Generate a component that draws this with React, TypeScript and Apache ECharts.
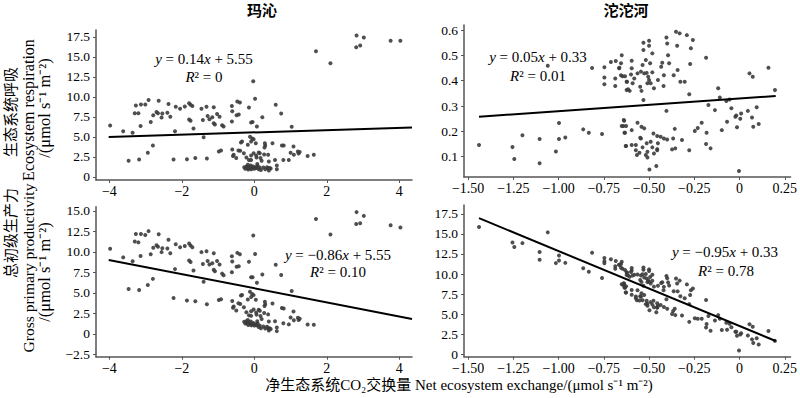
import React, { useEffect, useRef } from "react";
import * as echarts from "echarts";

// 玛沁: NEE (x) vs ecosystem respiration (y)
const maqinReco: number[][] = [
  [-3.98,6.4],[-3.62,5.7],[-3.36,5.5],[-3.47,2.0],[-3.18,2.15],[-3.27,8.9],[-3.2,7.95],[-3.3,7.95],[-3.13,9.05],[-3.14,6.35],
  [-3.01,9.05],[-2.92,9.6],[-2.86,6.85],[-2.79,7.7],[-2.8,3.9],[-2.94,3.0],[-2.64,9.5],[-2.7,8.1],[-2.66,7.95],[-2.54,7.9],
  [-2.56,7.4],[-2.37,9.1],[-2.4,8.0],[-2.32,7.5],[-2.23,2.15],[-2.19,5.7],[-2.17,8.75],[-2.05,8.5],[-1.92,8.8],[-1.86,2.2],
  [-1.8,9.2],[-1.76,9.0],[-1.71,8.85],[-1.76,7.0],[-1.8,7.15],[-1.68,6.05],[-1.63,2.35],[-1.46,8.5],[-1.42,7.1],[-1.4,4.95],
  [-1.32,8.75],[-1.29,7.6],[-1.31,2.3],[-1.24,7.2],[-1.16,7.45],[-1.12,8.7],[-1.09,6.55],[-1.12,6.7],[-1.03,7.85],[-0.96,7.5],
  [-0.98,3.15],[-0.89,6.45],[-0.85,6.3],
  [-0.62,8.85],[-0.61,8.2],[-0.62,6.9],[-0.59,2.6],[-0.47,9.4],[-0.49,7.7],[-0.37,4.3],[-0.44,3.3],[-0.15,8.65],[-0.12,5.0],
  [-0.18,4.0],[-0.09,6.8],[-0.03,11.95],[0.02,9.75],[0.07,6.3],[0.22,7.45],[0.59,9.0],[0.74,7.9],[0.76,3.9],[1.03,6.25],
  [1.08,3.8],[-0.05,6.85],[-0.02,4.7],[0.04,4.2],[0.29,4.2],[0.28,3.67],[0.3,3.9],[0.5,4.2],[0.81,3.9],[1.0,3.0],
  [1.09,2.75],[1.2,3.17],[1.22,2.9],[1.25,3.1],[1.47,2.6],[1.64,2.75],[0.15,2.95],[0.27,2.8],[0.38,2.75],[0.57,2.1],
  [0.8,2.1],[0.95,2.1],[-0.09,2.1],[0.06,2.4],[0.2,2.0],[0.4,1.9],[0.62,1.4],[0.62,0.95],[0.45,1.05],[0.38,1.05],
  [0.18,0.85],[-0.57,2.75],[-0.5,2.35],[-0.39,3.25],[-0.29,2.95],[-0.22,2.4],[-0.15,2.1],[-0.09,2.65],[-0.02,2.95],[0.05,2.65],
  [0.12,3.05],[0.17,2.35],[-0.34,4.4],[-0.09,4.4],[-0.06,4.8],[-0.43,7.8],[-0.4,9.3],[-0.61,3.4],[-0.92,3.3],
  [-0.28,1.2],[-0.25,1.0],[-0.22,1.3],[-0.2,1.1],[-0.17,0.9],[-0.15,1.25],[-0.12,1.05],[-0.1,1.4],[-0.08,0.95],[-0.05,1.15],
  [-0.03,1.3],[0.0,1.0],[0.03,1.2],[0.06,1.1],[0.09,1.35],[0.12,0.95],[0.15,1.15],[0.25,1.15],[0.3,0.95],[0.35,1.2],
  [0.4,0.8],[0.42,1.1],[-0.18,1.5],[0.08,1.6],
  [1.7,15.7],[2.1,14.2],[2.82,17.66],[3.02,17.4],[2.81,16.2],[2.92,16.4],[3.76,17.0],[4.03,17.0],
];

// 玛沁: NEE (x) vs gross primary productivity (y)
const maqinGPP: number[][] = [
  [-3.98,10.38],[-3.62,9.32],[-3.36,8.86],[-3.47,5.47],[-3.18,5.33],[-3.27,12.17],[-3.2,11.15],[-3.3,11.25],[-3.13,12.18],[-3.14,9.49],
  [-3.01,12.06],[-2.92,12.52],[-2.86,9.71],[-2.79,10.49],[-2.8,6.7],[-2.94,5.94],[-2.64,12.14],[-2.7,10.8],[-2.66,10.61],[-2.54,10.44],
  [-2.56,9.96],[-2.37,11.47],[-2.4,10.4],[-2.32,9.82],[-2.23,4.38],[-2.19,7.89],[-2.17,10.92],[-2.05,10.55],[-1.92,10.72],[-1.86,4.06],
  [-1.8,11.0],[-1.76,10.76],[-1.71,10.56],[-1.76,8.76],[-1.8,8.95],[-1.68,7.73],[-1.63,3.98],[-1.46,9.96],[-1.42,8.52],[-1.4,6.35],
  [-1.32,10.07],[-1.29,8.89],[-1.31,3.61],[-1.24,8.44],[-1.16,8.61],[-1.12,9.82],[-1.09,7.64],[-1.12,7.82],[-1.03,8.88],[-0.96,8.46],
  [-0.98,4.13],[-0.89,7.34],[-0.85,7.15],
  [-0.62,9.47],[-0.61,8.81],[-0.62,7.52],[-0.59,3.19],[-0.47,9.87],[-0.49,8.19],[-0.37,4.67],[-0.44,3.74],[-0.15,8.8],[-0.12,5.12],
  [-0.18,4.18],[-0.09,6.89],[-0.03,11.98],[0.02,9.73],[0.07,6.23],[0.22,7.23],[0.59,8.41],[0.74,7.16],[0.76,3.14],[1.03,5.22],
  [1.08,2.72],[-0.05,6.9],[-0.02,4.72],[0.04,4.16],[0.29,3.91],[0.28,3.39],[0.3,3.6],[0.5,3.7],[0.81,3.09],[1.0,2.0],
  [1.09,1.66],[1.2,1.97],[1.22,1.68],[1.25,1.85],[1.47,1.13],[1.64,1.11],[0.15,2.8],[0.27,2.53],[0.38,2.37],[0.57,1.53],
  [0.8,1.3],[0.95,1.15],[-0.09,2.19],[0.06,2.34],[0.2,1.8],[0.4,1.5],[0.62,0.78],[0.62,0.33],[0.45,0.6],[0.38,0.67],
  [0.18,0.67],[-0.57,3.32],[-0.5,2.85],[-0.39,3.64],[-0.29,3.24],[-0.22,2.62],[-0.15,2.25],[-0.09,2.74],[-0.02,2.97],[0.05,2.6],
  [0.12,2.93],[0.17,2.18],[-0.34,4.74],[-0.09,4.49],[-0.06,4.86],[-0.43,8.23],[-0.4,9.7],[-0.61,4.01],[-0.92,4.22],
  [-0.28,1.48],[-0.25,1.25],[-0.22,1.52],[-0.2,1.3],[-0.17,1.07],[-0.15,1.4],[-0.12,1.17],[-0.1,1.5],[-0.08,1.03],[-0.05,1.2],
  [-0.03,1.33],[0.0,1.0],[0.03,1.17],[0.06,1.04],[0.09,1.26],[0.12,0.83],[0.15,1.0],[0.25,0.9],[0.3,0.65],[0.35,0.85],
  [0.4,0.4],[0.42,0.68],[-0.18,1.68],[0.08,1.52],
  [1.7,14.0],[2.1,12.1],[2.82,14.84],[3.02,14.38],[2.81,13.39],[2.92,13.48],[3.76,13.24],[4.03,12.97],
];

// 沱沱河: NEE (x) vs ecosystem respiration (y)
const tuotuoReco: number[][] = [
  [-1.44,0.146],[-1.255,0.138],[-1.245,0.091],[-1.2,0.185],[-1.105,0.17],[-1.105,0.074],[-1.015,0.121],[-0.998,0.233],[-0.998,0.17],[-0.963,0.176],
  [-1.06,0.459],[-0.864,0.208],[-0.833,0.195],[-0.815,0.45],[-0.76,0.19],[-0.747,0.453],[-0.747,0.413],[-0.747,0.386],[-0.711,0.474],[-0.684,0.478],
  [-0.666,0.449],[-0.651,0.501],[-0.647,0.418],[-0.687,0.409],[-0.687,0.379],[-0.638,0.242],[-0.642,0.221],[-0.633,0.195],[-0.629,0.142],[-0.624,0.396],
  [-0.624,0.363],[-0.655,0.469],[-0.664,0.451],[-0.596,0.479],[-0.596,0.449],[-0.531,0.55],[-0.5,0.558],[-0.5,0.538],[-0.531,0.521],[-0.482,0.508],
  [-0.518,0.482],[-0.494,0.469],[-0.536,0.462],[-0.6,0.425],[-0.633,0.418],[-0.655,0.422],[-0.622,0.396],[-0.591,0.39],[-0.616,0.366],[-0.607,0.36],
  [-0.582,0.409],[-0.564,0.429],[-0.545,0.436],[-0.527,0.429],[-0.513,0.431],[-0.5,0.403],[-0.509,0.39],[-0.491,0.39],[-0.505,0.416],[-0.482,0.433],
  [-0.549,0.376],[-0.542,0.36],[-0.531,0.324],[-0.473,0.37],[-0.451,0.403],[-0.433,0.455],[-0.427,0.471],[-0.404,0.571],[-0.4,0.547],[-0.395,0.501],
  [-0.389,0.469],[-0.418,0.422],[-0.42,0.379],[-0.404,0.281],[-0.351,0.593],[-0.331,0.587],[-0.345,0.538],[-0.364,0.422],[-0.342,0.442],[-0.327,0.396],
  [-0.303,0.396],[-0.291,0.58],[-0.258,0.561],[-0.269,0.528],[-0.273,0.466],[-0.278,0.347],[-0.185,0.491],[-0.118,0.37],[-0.109,0.334],[-0.172,0.304],
  [-0.136,0.284],[-0.073,0.32],[-0.055,0.326],[-0.045,0.291],[-0.023,0.258],[-0.018,0.263],[0.009,0.271],[0.004,0.25],[0.046,0.281],[0.069,0.255],
  [0.095,0.295],[0.076,0.218],[0.106,0.229],[0.055,0.429],[0.073,0.416],[0.16,0.451],[0.196,0.363],[-0.014,0.216],[-0.098,0.205],[-0.069,0.238],
  [-0.003,0.044],[-0.182,0.195],[-0.16,0.133],[-0.185,0.15],[-0.209,0.234],[-0.231,0.213],[-0.247,0.202],[-0.278,0.126],[-0.318,0.166],[-0.358,0.21],
  [-0.367,0.172],[-0.355,0.133],[-0.373,0.129],[-0.4,0.168],[-0.418,0.172],[-0.436,0.179],[-0.455,0.182],[-0.451,0.153],[-0.455,0.126],[-0.476,0.192],
  [-0.491,0.159],[-0.482,0.137],[-0.473,0.113],[-0.513,0.153],[-0.509,0.12],[-0.518,0.107],[-0.509,0.097],[-0.498,0.05],[-0.46,0.063],[-0.545,0.172],
  [-0.549,0.175],[-0.542,0.218],[-0.527,0.212],[-0.564,0.234],[-0.596,0.205],[-0.651,0.221],[-0.627,0.221],[-0.64,0.245],[-0.636,0.195],[-0.627,0.142],
  [-0.596,0.146],[-0.573,0.146],[-0.573,0.126],[-0.536,0.137],[-0.567,0.107],[-0.553,0.116],[-0.455,0.13],
];

// 沱沱河: NEE (x) vs gross primary productivity (y)
const tuotuoGPP: number[][] = [
  [-1.44,15.86],[-1.255,13.93],[-1.245,13.36],[-1.2,13.85],[-1.105,12.75],[-1.105,11.79],[-1.015,11.36],[-0.998,12.31],[-0.998,11.68],[-0.963,11.39],
  [-1.06,15.19],[-0.864,10.72],[-0.833,10.28],[-0.815,12.65],[-0.76,9.5],[-0.747,12.0],[-0.747,11.6],[-0.747,11.33],[-0.711,11.85],[-0.684,11.62],
  [-0.666,11.15],[-0.651,11.52],[-0.647,10.65],[-0.687,10.96],[-0.687,10.66],[-0.638,8.8],[-0.642,8.63],[-0.633,8.28],[-0.629,7.71],[-0.624,10.2],
  [-0.624,9.87],[-0.655,11.24],[-0.664,11.15],[-0.596,10.75],[-0.596,10.45],[-0.531,10.81],[-0.5,10.58],[-0.5,10.38],[-0.531,10.52],[-0.482,9.9],
  [-0.518,10.0],[-0.494,9.63],[-0.536,9.98],[-0.6,10.25],[-0.633,10.51],[-0.655,10.77],[-0.622,10.18],[-0.591,9.81],[-0.616,9.82],[-0.607,9.67],
  [-0.582,9.91],[-0.564,9.93],[-0.545,9.81],[-0.527,9.56],[-0.513,9.44],[-0.5,9.03],[-0.509,8.99],[-0.491,8.81],[-0.505,9.21],[-0.482,9.15],
  [-0.549,9.25],[-0.542,9.02],[-0.531,8.55],[-0.473,8.43],[-0.451,8.54],[-0.433,8.88],[-0.427,8.98],[-0.404,9.75],[-0.4,9.47],[-0.395,8.96],
  [-0.389,8.58],[-0.418,8.4],[-0.42,7.99],[-0.404,6.85],[-0.351,9.44],[-0.331,9.18],[-0.345,8.83],[-0.364,7.86],[-0.342,7.84],[-0.327,7.23],
  [-0.303,6.99],[-0.291,8.71],[-0.258,8.19],[-0.269,7.97],[-0.273,7.39],[-0.278,6.25],[-0.185,6.76],[-0.118,4.88],[-0.109,4.43],[-0.172,4.76],
  [-0.136,4.2],[-0.073,3.93],[-0.055,3.81],[-0.045,3.36],[-0.023,2.81],[-0.018,2.81],[0.009,2.62],[0.004,2.46],[0.046,2.35],[0.069,1.86],
  [0.095,2.0],[0.076,1.42],[0.106,1.23],[0.055,3.74],[0.073,3.43],[0.16,2.91],[0.196,1.67],[-0.014,2.3],[-0.098,3.03],[-0.069,3.07],
  [-0.003,0.47],[-0.182,3.77],[-0.16,2.93],[-0.185,3.35],[-0.209,4.43],[-0.231,4.44],[-0.247,4.49],[-0.278,4.04],[-0.318,4.84],[-0.358,5.68],
  [-0.367,5.39],[-0.355,4.88],[-0.373,5.02],[-0.4,5.68],[-0.418,5.9],[-0.436,6.15],[-0.455,6.37],[-0.451,6.04],[-0.455,5.81],[-0.476,6.68],
  [-0.491,6.5],[-0.482,6.19],[-0.473,5.86],[-0.513,6.66],[-0.509,6.29],[-0.518,6.25],[-0.509,6.06],[-0.498,5.48],[-0.46,5.23],[-0.545,7.17],
  [-0.549,7.24],[-0.542,7.6],[-0.527,7.39],[-0.564,7.98],[-0.596,8.01],[-0.651,8.72],[-0.627,8.48],[-0.64,8.85],[-0.636,8.31],[-0.627,7.69],
  [-0.596,7.42],[-0.573,7.19],[-0.573,6.99],[-0.536,6.73],[-0.567,6.74],[-0.553,6.69],[-0.455,5.85],
];

// regression line end points
const maqinRecoFit = [[-4.02, 4.99], [4.35, 6.16]];
const maqinGPPFit = [[-4.02, 9.01], [4.35, 1.81]];
const tuotuoRecoFit = [[-1.44, 0.258], [0.2, 0.34]];
const tuotuoGPPFit = [[-1.44, 16.96], [0.2, 1.66]];

// tick values
const maqinXTicks = [-4, -2, 0, 2, 4];
const tuotuoXTicks = [-1.5, -1.25, -1, -0.75, -0.5, -0.25, 0, 0.25];
const maqinRecoYTicks = [0, 2.5, 5, 7.5, 10, 12.5, 15, 17.5];
const maqinGPPYTicks = [-2.5, 0, 2.5, 5, 7.5, 10, 12.5, 15];
const tuotuoRecoYTicks = [0.1, 0.2, 0.3, 0.4, 0.5, 0.6];
const tuotuoGPPYTicks = [0, 2.5, 5, 7.5, 10, 12.5, 15, 17.5];

const siteNames = ["玛沁", "沱沱河"];
const yNameReco = ["生态系统呼吸", "Ecosystem respiration", "/(μmol s⁻¹ m⁻²)"];
const yNameGPP = ["总初级生产力", "Gross primary productivity", "/(μmol s⁻¹ m⁻²)"];
const xName = "净生态系统CO₂交换量 Net ecosystem exchange/(μmol s⁻¹ m⁻²)";
const fitTexts = [
  ["{i|y} = 0.14{i|x} + 5.55", "{i|R}² = 0"],
  ["{i|y} = 0.05{i|x} + 0.33", "{i|R}² = 0.01"],
  ["{i|y} = −0.86{i|x} + 5.55", "{i|R}² = 0.10"],
  ["{i|y} = −0.95{i|x} + 0.33", "{i|R}² = 0.78"],
];

const SERIF = "'Liberation Serif', 'Times New Roman', 'Noto Sans CJK SC', serif";
const CJK = "'Noto Sans CJK SC', 'Liberation Serif', sans-serif";
const AXIS_COLOR = "#555";

const fmt = (dec: number) => (v: number) => {
  if (Math.abs(v) < 1e-9) return "0";
  const s = Math.abs(v).toFixed(dec);
  return (v < 0 ? "−" : "") + s;
};

const makeAxis = (gridIndex: number, min: number, max: number, ticks: number[], dec: number, isY: boolean) => ({
  type: "value",
  gridIndex,
  min,
  max,
  axisLine: { show: true, onZero: false, lineStyle: { color: AXIS_COLOR, width: 1.5 } },
  axisTick: { show: true, customValues: ticks, length: 3, inside: false, lineStyle: { color: AXIS_COLOR, width: 1 } },
  axisLabel: {
    show: true,
    customValues: ticks,
    formatter: fmt(dec),
    color: "#000",
    fontSize: isY ? 13.5 : 14,
    lineHeight: 13,
    fontFamily: SERIF,
    margin: isY ? 6 : 5,
  },
  splitLine: { show: false },
});

const scatter = (idx: number, data: number[][]) => ({
  type: "scatter",
  xAxisIndex: idx,
  yAxisIndex: idx,
  data,
  symbolSize: 4,
  itemStyle: { color: "#3c3c3c", opacity: 0.9 },
  silent: true,
});

const fitLine = (idx: number, data: number[][]) => ({
  type: "line",
  xAxisIndex: idx,
  yAxisIndex: idx,
  data,
  symbol: "none",
  lineStyle: { color: "#000", width: 2 },
  silent: true,
  z: 3,
});

const textEl = (text: string, x: number, y: number, opts: any = {}) => ({
  type: "text",
  x,
  y,
  rotation: opts.rotation || 0,
  silent: true,
  style: {
    text,
    x: 0,
    y: 0,
    align: "center",
    verticalAlign: "middle",
    textAlign: "center",
    textVerticalAlign: "middle",
    fontSize: opts.fontSize || 15,
    fontFamily: opts.fontFamily || SERIF,
    fontWeight: opts.fontWeight || "normal",
    fill: "#000",
    rich: opts.rich,
  },
});

export default function App() {
  const ref = useRef<HTMLDivElement>(null);

  useEffect(() => {
    document.body.style.margin = "0";
    if (!ref.current) return;
    const chart = echarts.init(ref.current, undefined, { renderer: "svg" });
    const rich = {
      i: { fontStyle: "italic", fontSize: 15, fontFamily: SERIF },
    };
    const fitPos = [
      [204, 59, 204, 77],
      [538, 57, 538, 76],
      [338, 255, 338, 272],
      [725, 252, 726, 271],
    ];
    const rot = Math.PI / 2;
    const graphics: any[] = [
      textEl(siteNames[0], 262, 9, { fontFamily: CJK, fontWeight: "bold", fontSize: 15 }),
      textEl(siteNames[1], 626, 9, { fontFamily: CJK, fontWeight: "bold", fontSize: 15 }),
      textEl(yNameReco[0], 9, 112, { rotation: rot, fontFamily: CJK }),
      textEl(yNameReco[1], 28, 110, { rotation: rot, fontSize: 16 }),
      textEl(yNameReco[2], 44, 108, { rotation: rot, fontSize: 16.5 }),
      textEl(yNameGPP[0], 9, 233, { rotation: rot, fontFamily: CJK }),
      textEl(yNameGPP[1], 28, 268, { rotation: rot, fontSize: 15.5 }),
      textEl(yNameGPP[2], 44, 272, { rotation: rot, fontSize: 16.5 }),
      textEl(xName, 459, 385, { fontFamily: SERIF }),
    ];
    fitTexts.forEach((t, k) => {
      const p = fitPos[k];
      graphics.push(textEl(t[0], p[0], p[1], { rich }));
      graphics.push(textEl(t[1], p[2], p[3], { rich }));
    });

    chart.setOption({
      animation: false,
      backgroundColor: "#fff",
      grid: [
        { left: 96, top: 30, width: 316, height: 150 },
        { left: 464, top: 25, width: 331, height: 152 },
        { left: 96, top: 206.7, width: 316, height: 150 },
        { left: 464, top: 205, width: 331, height: 151.7 },
      ],
      xAxis: [
        makeAxis(0, -4.37, 4.35, maqinXTicks, 0, false),
        makeAxis(1, -1.523, 0.282, tuotuoXTicks, 2, false),
        makeAxis(2, -4.37, 4.35, maqinXTicks, 0, false),
        makeAxis(3, -1.523, 0.282, tuotuoXTicks, 2, false),
      ],
      yAxis: [
        makeAxis(0, -0.4, 18.35, maqinRecoYTicks, 1, true),
        makeAxis(1, 0.02, 0.62, tuotuoRecoYTicks, 1, true),
        makeAxis(2, -2.79, 15.5, maqinGPPYTicks, 1, true),
        makeAxis(3, -0.3, 18.6, tuotuoGPPYTicks, 1, true),
      ],
      series: [
        scatter(0, maqinReco),
        fitLine(0, maqinRecoFit),
        scatter(1, tuotuoReco),
        fitLine(1, tuotuoRecoFit),
        scatter(2, maqinGPP),
        fitLine(2, maqinGPPFit),
        scatter(3, tuotuoGPP),
        fitLine(3, tuotuoGPPFit),
      ],
      graphic: graphics,
    });
    return () => chart.dispose();
  }, []);

  return <div ref={ref} style={{ width: 800, height: 398 }} />;
}
